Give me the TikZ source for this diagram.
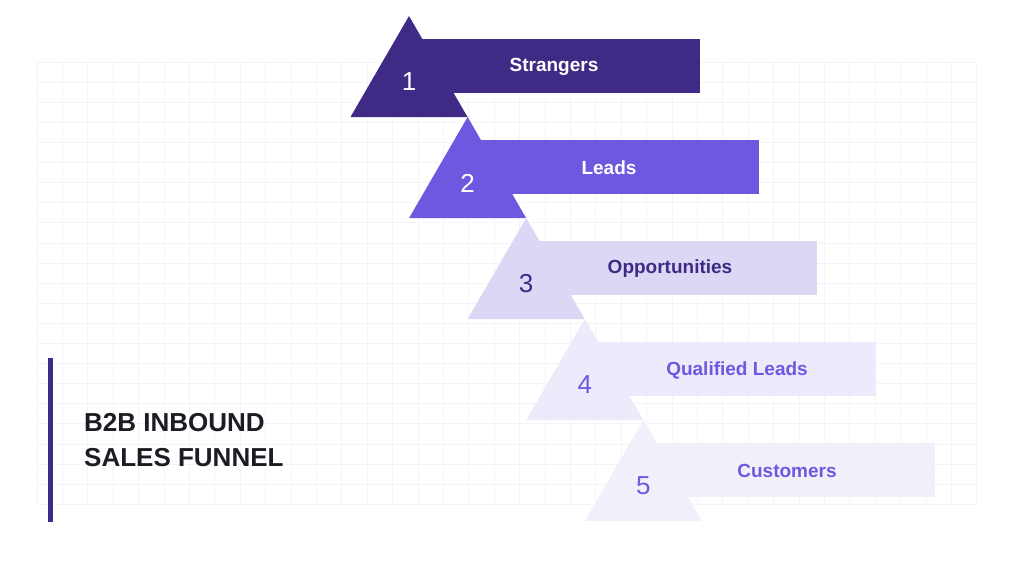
\documentclass[tikz,border=0pt]{standalone}
\usepackage{fontspec}
\setmainfont{Liberation Sans}
\usetikzlibrary{calc}
\definecolor{stepone}{HTML}{3F2A86}
\definecolor{steptwo}{HTML}{6F58E0}
\definecolor{stepthree}{HTML}{DBD8F6}
\definecolor{stepfour}{HTML}{ECEAFB}
\definecolor{stepfive}{HTML}{F1F0FA}
\definecolor{inkdark}{HTML}{1C1C24}
\definecolor{gridgray}{HTML}{F4F3F8}
\tikzset{
  gridline/.style={gridgray, line width=0.8pt},
  numtext/.style={font=\fontsize{26}{26}\selectfont, inner sep=0pt},
  labeltext/.style={font=\bfseries\fontsize{19}{19}\selectfont, inner sep=0pt},
  titletext/.style={font=\bfseries\fontsize{26}{35}\selectfont, text=inkdark, align=left, inner sep=0pt}
}

\begin{document}
\begin{tikzpicture}[x=1pt,y=-1pt]
\fill[white] (0,0) rectangle (1024,573);
\useasboundingbox (0,0) rectangle (1024,573);

% faint grid behind
\foreach \gx in {37,62.4,...,978} \draw[gridline] (\gx,62) -- (\gx,504);
\foreach \gy in {62,82.1,...,505} \draw[gridline] (37,\gy) -- (977,\gy);

% the five steps
\foreach \i/\num/\fc/\tc/\lx/\lbl in {0/1/stepone/white/554/Strangers,
    1/2/steptwo/white/609/Leads,
    2/3/stepthree/stepone/670/Opportunities,
    3/4/stepfour/steptwo/737/Qualified Leads,
    4/5/stepfive/steptwo/787/Customers}{
  \coordinate (apex\i) at ({409+58.6*\i},{16+101*\i});
  \fill[\fc] ($(apex\i)+(0,22.5)$) rectangle ({700+58.7*\i},{16+101*\i+77});
  \fill[\fc] (apex\i) -- ++(-58.5,101) -- ++(117,0) -- cycle;
  \node[numtext,text=\tc] (num\i) at ($(apex\i)+(0,66)$) {\num};
  \node[labeltext,text=\tc] (lbl\i) at (\lx,{16+101*\i+51}) {\lbl};
}

\draw[stepone,line width=5pt] (50,358) -- (50,522);
\node[titletext,anchor=west] (title) at (84,440) {B2B INBOUND\\SALES FUNNEL};
\end{tikzpicture}
\end{document}
